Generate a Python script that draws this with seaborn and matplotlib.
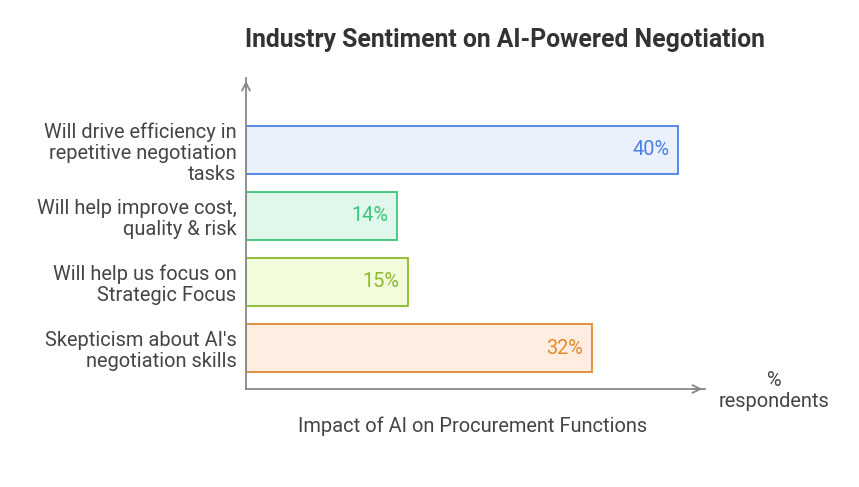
import matplotlib
matplotlib.use("Agg")
import matplotlib.pyplot as plt
import seaborn as sns
import pandas as pd

categories = [
    "Will drive efficiency in\nrepetitive negotiation\ntasks",
    "Will help improve cost,\nquality & risk",
    "Will help us focus on\nStrategic Focus",
    "Skepticism about AI's\nnegotiation skills",
]
values = [40, 14, 15, 32]
edge_colors = ["#4a80e6", "#3cc47c", "#8cba2c", "#e48a2e"]
fill_colors = ["#eaf1fd", "#e0f8ec", "#f2fcdc", "#fdeee1"]

df = pd.DataFrame({"label": categories, "value": values})

plt.rcParams["font.family"] = "Roboto"
fig = plt.figure(figsize=(8.59, 4.87), dpi=100)
ax = fig.add_axes([246 / 859, 98 / 487, 459 / 859, 311 / 487])

sns.barplot(data=df, x="value", y="label", orient="h", ax=ax, width=0.727)
for patch, fc, ec in zip(ax.patches, fill_colors, edge_colors):
    patch.set_facecolor(fc)
    patch.set_edgecolor(ec)
    patch.set_linewidth(1.3)

for i, (v, c) in enumerate(zip(values, edge_colors)):
    ax.text(v - 0.8, i, f"{v}%", color=c, ha="right", va="center", fontsize=14.4)

ax.set_xlim(0, 42.5)
ax.set_ylim(3.621, -1.09)
ax.set_xticks([])
ax.tick_params(axis="y", length=0, pad=7, labelsize=14.4, labelcolor="#444444")
for t in ax.get_yticklabels():
    t.set_multialignment("right")
    t.set_linespacing(1.15)
ax.set_xlabel("")
ax.set_ylabel("")
for s in ["top", "right"]:
    ax.spines[s].set_visible(False)
for s in ["left", "bottom"]:
    ax.spines[s].set_color("#888888")
    ax.spines[s].set_linewidth(1.3)
ax.annotate("", xy=(1.0, 0), xytext=(0.97, 0), xycoords="axes fraction",
            arrowprops=dict(arrowstyle="->", color="#888888", lw=1.3, mutation_scale=14))
ax.annotate("", xy=(0, 1.0), xytext=(0, 0.96), xycoords="axes fraction",
            arrowprops=dict(arrowstyle="->", color="#888888", lw=1.3, mutation_scale=14))

fig.text(505 / 859, 1 - 40 / 487, "Industry Sentiment on AI-Powered Negotiation",
         ha="center", va="center", fontsize=17.8, fontweight="bold", color="#333333")
fig.text(473 / 859, 1 - 426 / 487, "Impact of AI on Procurement Functions",
         ha="center", va="center", fontsize=14.4, color="#444444")
fig.text(774 / 859, 1 - 391 / 487, "%\nrespondents", ha="center", va="center",
         fontsize=14.4, color="#444444", linespacing=1.1)

fig.savefig("out.png", dpi=100, facecolor="white")
